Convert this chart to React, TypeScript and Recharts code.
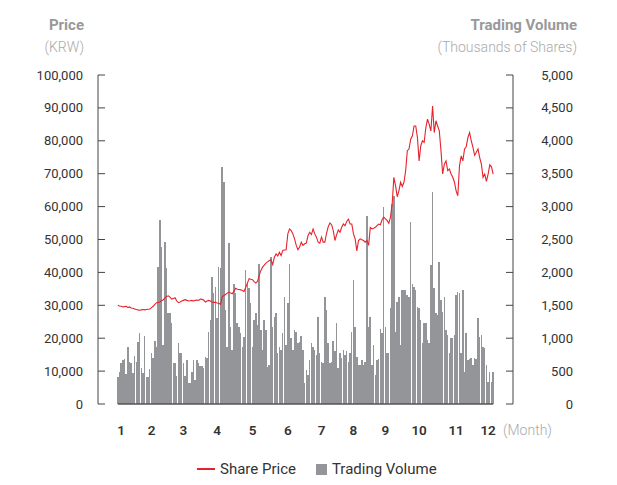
import React from 'react';
import { ComposedChart, Bar, Line, XAxis, YAxis, ReferenceLine, Legend } from 'recharts';

const volumes = [
  414, 490, 620, 665, 680, 455, 870, 635, 620, 475,
  727, 635, 940, 1075, 545, 470, 1035, 414, 414, 530,
  770, 695, 955, 870, 2080, 2790, 2385, 895, 2460, 2060,
  1380, 1390, 1225, 620, 620, 425, 930, 770, 775, 620,
  425, 665, 315, 315, 490, 665, 365, 670, 620, 575,
  570, 545, 715, 695, 1095, 1270, 1930, 1680, 1775, 1300,
  2080, 2060, 3600, 3370, 1425, 870,
  2445, 1170, 820, 1820, 1680, 1225, 1170, 1075, 870, 1020,
  2030, 1830, 1760, 1530, 870, 1270, 1380, 1195, 2135, 1120,
  820, 1270, 1120, 565, 590, 2230, 1170, 1320, 1380, 770,
  870, 820, 1075, 1625, 895, 1530, 2135, 1000, 820, 1120,
  1100, 925, 940, 1030, 820, 315, 515, 440, 665, 925,
  870, 820, 740, 1320, 770, 640, 620, 1625, 1425, 925,
  620, 640, 960, 800, 1225, 545, 770, 695, 820, 740,
  800, 640, 770, 1100, 1880, 1170, 715, 590, 590, 665,
  590, 640,
  2860, 1170, 1320, 590, 895, 440, 665, 680, 1135, 1075,
  2990, 1170, 770, 770, 1455, 3045, 3165, 1095, 1550, 1625,
  895, 1727, 1727, 1727, 1650, 1625, 2760, 1830, 1775, 1727,
  1475, 1455, 1270, 925, 1225, 1225, 970, 925, 2120, 3215,
  1760, 1380, 1350, 2155, 1575, 1400, 1625, 1120, 1045, 770,
  1000, 1010, 1045, 1650, 1700, 1680, 770, 1727, 490, 1075,
  665, 680, 700, 590, 700, 680, 1310, 1020, 1045, 870,
  850, 590, 340, 490, 340, 490,
];

const prices = [
  30000, 29800, 29700, 29500, 29600, 29700, 29300, 29500, 29200, 29100,
  28900, 28700, 28600, 28500, 28600, 28700, 28600, 28700, 28800, 28900,
  29300, 29700, 30300, 30800, 30900, 31000, 31400, 31700, 32200, 32700,
  32900, 32500, 31900, 32100, 32300, 31300, 30800, 31000, 31300, 31500,
  31700, 31500, 31300, 31400, 31500, 31300, 31500, 31600, 31500, 31900,
  31800, 31600, 31000, 31300, 31500, 31300, 31000, 30900, 30900, 30700,
  30600, 30300, 32500, 33000, 33300, 33700, 34000, 33700, 33500, 34300,
  35200, 34900, 34800, 34700, 34500, 34200, 35500, 36800, 38100, 37900,
  37800, 37200, 36800, 37300, 39100, 40600, 41600, 42200, 42800, 43200,
  43600, 43800, 42400, 44600, 45600, 45000, 46100, 45100, 46700, 46800,
  46900, 51700, 53200, 52700, 51700, 50200, 48200, 46900, 47700, 49200,
  48200, 48700, 48900, 51200, 52200, 51500, 53200, 51700, 50700, 49200,
  48900, 50700, 49200, 49200, 51900, 53900, 55000, 54500, 52700, 49700,
  51500, 52900, 52200, 53700, 54700, 54200, 55500, 56200, 54700, 54700,
  51700, 50200, 46500, 49700, 50200, 49900, 49700, 49200, 49700, 48200,
  53700, 53200, 53400, 53700, 54200, 54700, 54500, 56000, 56800, 56300,
  55800, 54900, 56800, 60800, 68900, 66400, 63000, 64800, 67400, 66100,
  67400, 70900, 77000, 77500, 80500, 81500, 84500, 84500, 81000, 73900,
  78500, 80000, 79500, 84000, 86600, 85000, 83000, 90600, 82500, 86100,
  84500, 83000, 77000, 69900, 72900, 73900, 70900, 71400, 69900, 68900,
  67400, 64800, 63300, 72400, 75400, 73900, 77500, 78200, 81000, 82500,
  80000, 78000, 75600, 76500, 77500, 74900, 72900, 68900, 69900, 67700,
  69900, 72700, 72100, 69900,
];

const monthLabels = ['1', '2', '3', '4', '5', '6', '7', '8', '9', '10', '11', '12'];
const monthTickIndex = [2, 20, 39, 59, 80, 101, 121, 140, 159, 179, 201, 220];
const priceTicks = [0, 10000, 20000, 30000, 40000, 50000, 60000, 70000, 80000, 90000, 100000];
const volumeTicks = [0, 500, 1000, 1500, 2000, 2500, 3000, 3500, 4000, 4500, 5000];

const data = volumes.map((volume, i) => ({ i, volume, price: prices[i] }));

const FONT = 'Roboto, "Noto Sans", sans-serif';
const RED = '#e5232d';
const GRAY = '#949598';
const AXIS = '#444';
const fmt = (v: number) => v.toLocaleString('en-US');

function LeftTick(props: any) {
  const { x, y, payload } = props;
  return (
    <g>
      <line x1={x + 15} x2={x + 22} y1={y} y2={y} stroke={AXIS} strokeWidth={1} />
      <text x={x} y={y} dy="0.35em" textAnchor="end" fontSize={13} fill="#333" fontFamily={FONT}>
        {fmt(payload.value)}
      </text>
    </g>
  );
}

function RightTick(props: any) {
  const { x, y, payload } = props;
  return (
    <g>
      <line x1={x - 60} x2={x - 67} y1={y} y2={y} stroke={AXIS} strokeWidth={1} />
      <text x={x} y={y} dy="0.35em" textAnchor="end" fontSize={13} fill="#333" fontFamily={FONT}>
        {fmt(payload.value)}
      </text>
    </g>
  );
}

function MonthTick(props: any) {
  const { x, y, payload } = props;
  const k = monthTickIndex.indexOf(payload.value);
  return (
    <text x={x} y={y} dy="0.35em" textAnchor="middle" fontSize={13.5} fontWeight={600} fill="#333" fontFamily={FONT}>
      {k >= 0 ? monthLabels[k] : ''}
    </text>
  );
}

function MonthLabel(props: any) {
  const vb = props.viewBox || {};
  return (
    <text x={vb.x + vb.width - 10} y={vb.y + 26} dy="0.35em" textAnchor="start" fontSize={14} fontWeight={300} fill="#aaa" fontFamily={FONT}>
      (Month)
    </text>
  );
}

function LegendContent() {
  return (
    <div style={{ display: 'flex', alignItems: 'center', paddingLeft: 197, height: 20, fontFamily: FONT, fontSize: 15, color: '#333' }}>
      <span style={{ display: 'inline-block', width: 18, height: 2, background: RED, marginRight: 5 }} />
      <span style={{ marginRight: 20 }}>Share Price</span>
      <span style={{ display: 'inline-block', width: 11, height: 11, background: GRAY, marginRight: 5 }} />
      <span>Trading Volume</span>
    </div>
  );
}

export default function App() {
  return (
    <div style={{ position: 'absolute', left: 0, top: 0, width: 617, height: 485, background: '#fff', fontFamily: FONT }}>
      <div style={{ position: 'absolute', right: 533, top: 15, textAlign: 'right', whiteSpace: 'nowrap' }}>
        <div style={{ fontSize: 15, fontWeight: 700, color: '#999', lineHeight: '20px' }}>Price</div>
        <div style={{ fontSize: 14, fontWeight: 300, color: '#aaa', lineHeight: '20px', marginTop: 2 }}>(KRW)</div>
      </div>
      <div style={{ position: 'absolute', right: 40, top: 15, textAlign: 'right', whiteSpace: 'nowrap' }}>
        <div style={{ fontSize: 15, fontWeight: 700, color: '#999', lineHeight: '20px' }}>Trading Volume</div>
        <div style={{ fontSize: 14, fontWeight: 300, color: '#aaa', lineHeight: '20px', marginTop: 2 }}>(Thousands of Shares)</div>
      </div>
      <ComposedChart width={617} height={485} data={data} margin={{ top: 75, right: 0, bottom: 0, left: 0 }}>
        <XAxis
          dataKey="i"
          type="category"
          padding={{ left: 19, right: 19 }}
          axisLine={false}
          tickLine={false}
          tickSize={0}
          tickMargin={26}
          ticks={monthTickIndex}
          interval={0}
          tick={<MonthTick />}
          height={81}
          label={<MonthLabel />}
        />
        <YAxis
          yAxisId="left"
          orientation="left"
          width={98}
          domain={[0, 100000]}
          ticks={priceTicks}
          interval={0}
          axisLine={{ stroke: AXIS }}
          tickLine={false}
          tickSize={0}
          tickMargin={15}
          tick={<LeftTick />}
        />
        <YAxis
          yAxisId="right"
          orientation="right"
          width={104}
          domain={[0, 5000]}
          ticks={volumeTicks}
          interval={0}
          axisLine={{ stroke: AXIS }}
          tickLine={false}
          tickSize={0}
          tickMargin={60}
          tick={<RightTick />}
        />
        <Bar yAxisId="right" dataKey="volume" fill={GRAY} barSize={2} shapeRendering="crispEdges" isAnimationActive={false} />
        <Line yAxisId="left" dataKey="price" stroke={RED} strokeWidth={1.1} dot={false} type="linear" isAnimationActive={false} />
        <ReferenceLine
          yAxisId="left"
          segment={[{ x: 0, y: 0 }, { x: 223, y: 0 }]}
          stroke="#555"
          strokeWidth={1.5}
          ifOverflow="visible"
        />
        <Legend verticalAlign="middle" align="center" wrapperStyle={{ top: 459, left: 0, width: 617, height: 20 }} content={<LegendContent />} />
      </ComposedChart>
    </div>
  );
}
